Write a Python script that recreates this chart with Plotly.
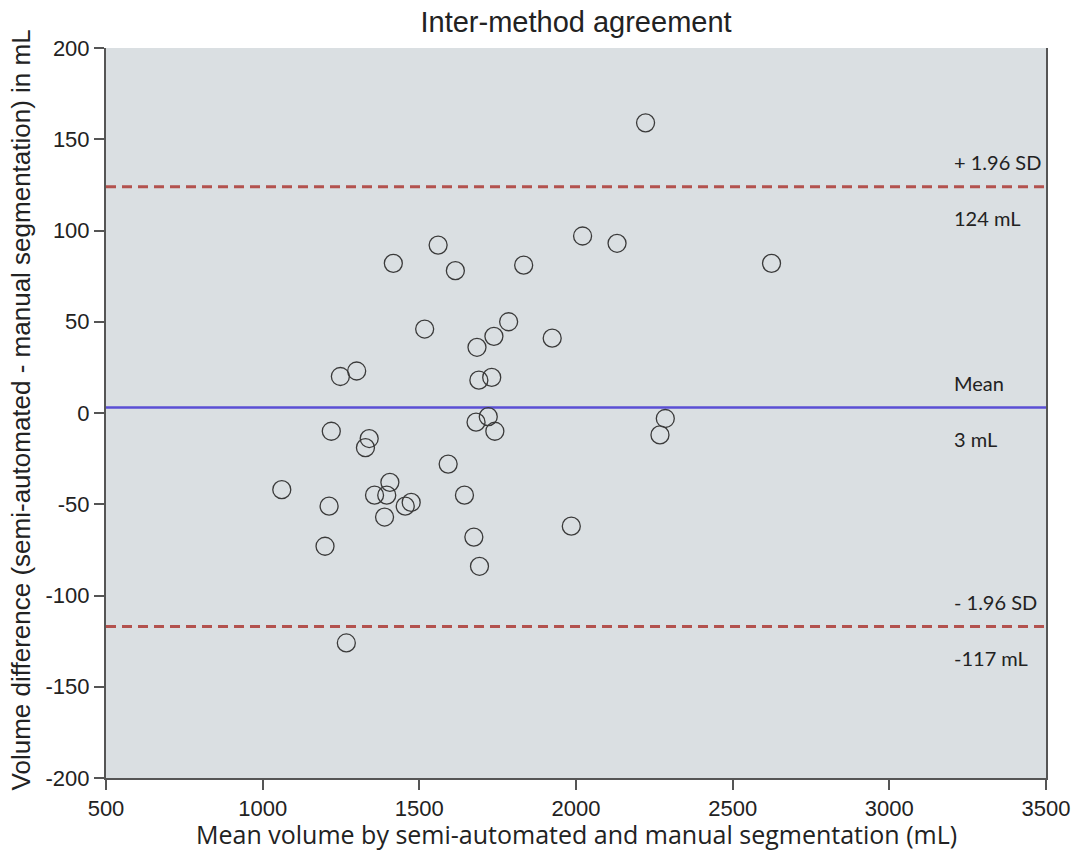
import plotly.graph_objects as go

# Bland-Altman data: mean volume (mL) and volume difference (mL)
mean_volume = [1248, 1300, 1417, 1560, 1615, 1833, 1517, 1785, 1738, 1684,
               1690, 1731, 2222, 2021, 2131, 2624, 1924, 1219, 1340, 1328,
               1061, 1212, 1199, 1267, 1406, 1357, 1396, 1389, 1455, 1474,
               1592, 1644, 1674, 1692, 1681, 1720, 1741, 1985, 2285, 2268]
volume_diff = [20, 23, 82, 92, 78, 81, 46, 50, 42, 36,
               18, 19.5, 159, 97, 93, 82, 41, -10, -14, -19,
               -42, -51, -73, -126, -38, -45, -45, -57, -51, -49,
               -28, -45, -68, -84, -5, -2, -10, -62, -3, -12]

mean_diff = 3
upper_loa = 124
lower_loa = -117

labels_above = ["+ 1.96 SD", "Mean", "- 1.96 SD"]
labels_below = ["124 mL", "3 mL", "-117 mL"]
label_x = 3200

x_ticks = [500, 1000, 1500, 2000, 2500, 3000, 3500]
y_ticks = [-200, -150, -100, -50, 0, 50, 100, 150, 200]
y_tick_labels = ["-200", "-150", "-100", "-50", "0", "50", "100", "150", "200"]

x_title = "Mean volume by semi-automated and manual segmentation (mL)"
y_title = "Volume difference (semi-automated - manual segmentation) in mL"

fig = go.Figure()
fig.add_trace(go.Scatter(
    x=mean_volume, y=volume_diff, mode="markers",
    marker=dict(symbol="circle-open", size=18, color="#3a3a3a",
                line=dict(width=1.3, color="#3a3a3a")),
    showlegend=False, hoverinfo="x+y"))

line_vals = [upper_loa, mean_diff, lower_loa]
line_styles = [dict(color="#b3524e", width=3, dash="10px,6px"),
               dict(color="#5a4fd4", width=2.5),
               dict(color="#b3524e", width=3, dash="10px,6px")]
for v, st in zip(line_vals, line_styles):
    fig.add_shape(type="line", xref="paper", x0=0, x1=1, yref="y", y0=v, y1=v,
                  line=st, layer="below")

ann_font = dict(family="Lato, 'Open Sans', sans-serif", size=20, color="#222")
for v, a, b in zip(line_vals, labels_above, labels_below):
    fig.add_annotation(x=label_x, y=v, text=a, showarrow=False, xanchor="left",
                       yanchor="middle", yshift=25, font=ann_font)
    fig.add_annotation(x=label_x, y=v, text=b, showarrow=False, xanchor="left",
                       yanchor="middle", yshift=-31, font=ann_font)

# axis titles placed as annotations to match the reference positions
fig.add_annotation(xref="paper", yref="paper", x=-0.0894, y=0.5048, text=y_title,
                   textangle=-90, showarrow=False, xanchor="center", yanchor="middle",
                   font=dict(family="Liberation Sans, Arial, sans-serif", size=26, color="#222"))
fig.add_annotation(xref="paper", yref="paper", x=0.5, y=-0.0765, text=x_title,
                   showarrow=False, xanchor="center", yanchor="middle",
                   font=dict(family="'Open Sans', sans-serif", size=25, color="#222"))

fig.update_layout(
    width=1082, height=852,
    margin=dict(l=106, r=36, t=48, b=74, autoexpand=False),
    paper_bgcolor="white", plot_bgcolor="#dadfe2",
    title=dict(text="Inter-method agreement", x=0.5324, xanchor="center",
               y=0.9745, yanchor="middle",
               font=dict(family="Liberation Sans, Arial, sans-serif", size=29, color="#222")),
    font=dict(family="Liberation Sans, Arial, sans-serif", size=22, color="#222"),
)
fig.update_xaxes(range=[500, 3500], tickvals=x_ticks, showgrid=False, zeroline=False,
                 automargin=False,
                 showline=True, linecolor="#555", linewidth=2, ticks="outside",
                 ticklen=10, tickcolor="#555", tickwidth=1.5,
                 tickfont=dict(size=22))
fig.update_yaxes(range=[-200, 200], tickvals=y_ticks, ticktext=y_tick_labels,
                 showgrid=False, zeroline=False, automargin=False,
                 showline=True, linecolor="#555", linewidth=2, mirror=True,
                 ticks="outside", ticklen=10, tickcolor="#555", tickwidth=1.5,
                 tickfont=dict(size=22))

fig.write_html("out.html", config={"displayModeBar": False},
               post_script="document.body.style.margin='0';document.body.style.overflow='hidden';")
